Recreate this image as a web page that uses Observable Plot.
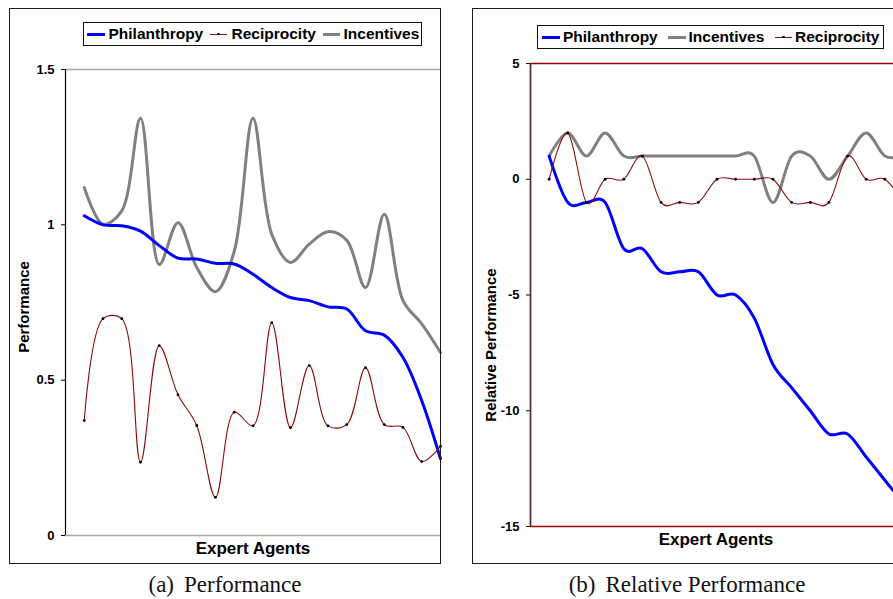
<!DOCTYPE html>
<html>
<head>
<meta charset="utf-8">
<script src="https://cdn.jsdelivr.net/npm/d3@7"></script>
<script src="https://cdn.jsdelivr.net/npm/@observablehq/plot@0.6"></script>
<style>
  html, body { margin: 0; padding: 0; background: white; }
  body { width: 893px; height: 599px; overflow: hidden; position: relative; font-family: "Liberation Sans", Arial, sans-serif; }
  .abs { position: absolute; }
  .frame { position: absolute; border: 1.5px solid #1a1a1a; box-sizing: border-box; background: transparent; z-index: 3; pointer-events: none; }
  .legend { position: absolute; border: 1px solid #111; background: white; box-sizing: border-box; z-index: 4; }
  .ltext { position: absolute; font-weight: bold; font-size: 15.5px; line-height: 18px; color: #000; white-space: nowrap; z-index: 5; }
  .sw { position: absolute; z-index: 5; }
  .title { position: absolute; font-weight: bold; color: #000; white-space: nowrap; z-index: 5; }
  .cap { position: absolute; font-family: "Liberation Serif", "Times New Roman", serif; font-size: 23px; color: #111; white-space: nowrap; }
</style>
</head>
<body>
<div id="left" class="abs" style="left:0;top:0;width:445px;"></div>
<div id="right" class="abs" style="left:460px;top:0;width:450px;"></div>
<div class="frame" style="left:9px;top:7.5px;width:432px;height:556px;"></div>
<div class="frame" style="left:471.5px;top:7.5px;width:460px;height:556px;"></div>
<div id="overlay"></div>
<script>
// ---------------- data ----------------
const agentIndex = [1, 2, 3, 4, 5, 6, 7, 8, 9, 10, 11, 12, 13, 14, 15, 16, 17, 18, 19, 20];

// (a) Performance
const perfPhilanthropy = [1.029, 1.0, 0.997, 0.98, 0.933, 0.893, 0.89, 0.876, 0.874, 0.841, 0.798, 0.766, 0.756, 0.736, 0.729, 0.659, 0.645, 0.573, 0.434, 0.247];
const perfReciprocity  = [0.370, 0.698, 0.698, 0.236, 0.611, 0.453, 0.354, 0.123, 0.397, 0.353, 0.685, 0.347, 0.547, 0.353, 0.357, 0.540, 0.357, 0.348, 0.238, 0.287];
const perfIncentives   = [1.12, 1.002, 1.045, 1.343, 0.872, 1.007, 0.863, 0.785, 0.915, 1.343, 0.97, 0.879, 0.938, 0.978, 0.95, 0.798, 1.034, 0.756, 0.681, 0.589];
const perfTicks = [0, 0.5, 1, 1.5];

// (b) Relative Performance
const relPhilanthropy = [1, -1, -1, -1, -3, -3, -4, -4, -4, -5, -5, -6, -8, -9, -10, -11, -11, -12, -13, -14];
const relIncentives   = [1, 2, 1, 2, 1, 1, 1, 1, 1, 1, 1, 1, -1, 1, 1, 0, 1, 2, 1, 1];
const relReciprocity  = [0, 2, -1, 0, 0, 1, -1, -1, -1, 0, 0, 0, 0, -1, -1, -1, 1, 0, 0, -1];
const relTicks = [5, 0, -5, -10, -15];

const seriesNames = ["Philanthropy", "Reciprocity", "Incentives"];
const colors = { Philanthropy: "#0000ff", Reciprocity: "#8b0a0a", Incentives: "#808080" };

const toRows = (vals) => agentIndex.map((a, i) => ({ agent: a, value: vals[i] }));

const baseStyle = {
  background: "transparent",
  fontFamily: "'Liberation Sans', Arial, sans-serif",
  fontSize: "13px",
  fontWeight: "bold",
  color: "#000",
  overflow: "visible"
};
const smoothA = { curve: "catmull-rom" };
const smoothB = { curve: "cardinal", tension: 0 };

// ---------------- (a) ----------------
const left = Plot.plot({
  width: 445, height: 599,
  marginLeft: 65, marginRight: 5, marginTop: 69, marginBottom: 64,
  style: baseStyle,
  x: { domain: [0, 20], axis: null },
  y: { domain: [0, 1.5], ticks: perfTicks, tickFormat: d => String(d), tickSize: 4, tickPadding: 7, label: null },
  marks: [
    Plot.ruleY([1.5, 0], { stroke: "#a6a6a6", strokeWidth: 1.6 }),
    Plot.ruleX([0], { stroke: "#000", strokeWidth: 1.2 }),
    Plot.line(toRows(perfIncentives), { x: "agent", y: "value", stroke: colors.Incentives, strokeWidth: 3, ...smoothA }),
    Plot.line(toRows(perfPhilanthropy), { x: "agent", y: "value", stroke: colors.Philanthropy, strokeWidth: 3, ...smoothA }),
    Plot.line(toRows(perfReciprocity), { x: "agent", y: "value", stroke: colors.Reciprocity, strokeWidth: 1.1, ...smoothA }),
    Plot.dot(toRows(perfReciprocity), { x: "agent", y: "value", r: 1.4, fill: "#000", stroke: "none" })
  ]
});
document.getElementById("left").appendChild(left);

// ---------------- (b) ----------------
const right = Plot.plot({
  width: 450, height: 599,
  marginLeft: 70, marginRight: 7, marginTop: 63, marginBottom: 73,
  style: baseStyle,
  x: { domain: [0, 20], axis: null },
  y: { domain: [-15, 5], ticks: relTicks, tickFormat: d => String(d), tickSize: 4, tickPadding: 7, label: null },
  marks: [
    Plot.ruleY([5, -15], { stroke: "#990000", strokeWidth: 1.5 }),
    Plot.ruleX([0], { stroke: "#5a3434", strokeWidth: 1.8 }),
    Plot.line(toRows(relIncentives), { x: "agent", y: "value", stroke: colors.Incentives, strokeWidth: 3, ...smoothB }),
    Plot.line(toRows(relPhilanthropy), { x: "agent", y: "value", stroke: colors.Philanthropy, strokeWidth: 3, ...smoothB }),
    Plot.line(toRows(relReciprocity), { x: "agent", y: "value", stroke: colors.Reciprocity, strokeWidth: 1.1, ...smoothB }),
    Plot.dot(toRows(relReciprocity), { x: "agent", y: "value", r: 1.4, fill: "#000", stroke: "none" })
  ]
});
document.getElementById("right").appendChild(right);

// ---------------- overlay: legends, titles, captions ----------------
const ov = document.getElementById("overlay");
function add(html) { ov.insertAdjacentHTML("beforeend", html); }

function legend(box, items) {
  add(`<div class="legend" style="left:${box.x}px;top:${box.y}px;width:${box.w}px;height:${box.h}px;"></div>`);
  const cy = box.y + box.h / 2;
  for (const it of items) {
    const c = colors[it.name];
    if (it.name === "Reciprocity") {
      add(`<div class="sw" style="left:${it.sx}px;top:${cy - 0.5}px;width:${it.sw}px;height:1px;background:${c};"></div>`);
      add(`<div class="sw" style="left:${it.sx + it.sw / 2 - 1.25}px;top:${cy - 1.25}px;width:2.5px;height:2.5px;border-radius:50%;background:#000;"></div>`);
    } else {
      add(`<div class="sw" style="left:${it.sx}px;top:${cy - 1.5}px;width:${it.sw}px;height:3px;background:${c};"></div>`);
    }
    add(`<div class="ltext" style="left:${it.tx}px;top:${cy - 9.5}px;">${it.name}</div>`);
  }
}

legend({ x: 83, y: 22, w: 339, h: 24 }, [
  { name: "Philanthropy", sx: 87, sw: 18, tx: 108.5 },
  { name: "Reciprocity", sx: 210, sw: 17, tx: 231.5 },
  { name: "Incentives", sx: 323, sw: 17, tx: 343.5 }
]);
legend({ x: 537, y: 25, w: 347, h: 24 }, [
  { name: "Philanthropy", sx: 542, sw: 18, tx: 563 },
  { name: "Incentives", sx: 668, sw: 18, tx: 688.5 },
  { name: "Reciprocity", sx: 775, sw: 17, tx: 795 }
]);

// axis titles
add(`<div class="title" style="left:253px;top:549px;font-size:17px;transform:translate(-50%,-50%);">Expert Agents</div>`);
add(`<div class="title" style="left:716px;top:540px;font-size:17px;transform:translate(-50%,-50%);">Expert Agents</div>`);
add(`<div class="title" style="left:22.5px;top:307px;font-size:15px;transform:translate(-50%,-50%) rotate(-90deg);">Performance</div>`);
add(`<div class="title" style="left:490px;top:345px;font-size:15px;transform:translate(-50%,-50%) rotate(-90deg);">Relative Performance</div>`);

// captions
add(`<div class="cap" style="left:225px;top:585px;transform:translate(-50%,-50%);">(a)<span style="display:inline-block;width:10px;"></span>Performance</div>`);
add(`<div class="cap" style="left:687px;top:585px;transform:translate(-50%,-50%);">(b)<span style="display:inline-block;width:10px;"></span>Relative Performance</div>`);
</script>
</body>
</html>
